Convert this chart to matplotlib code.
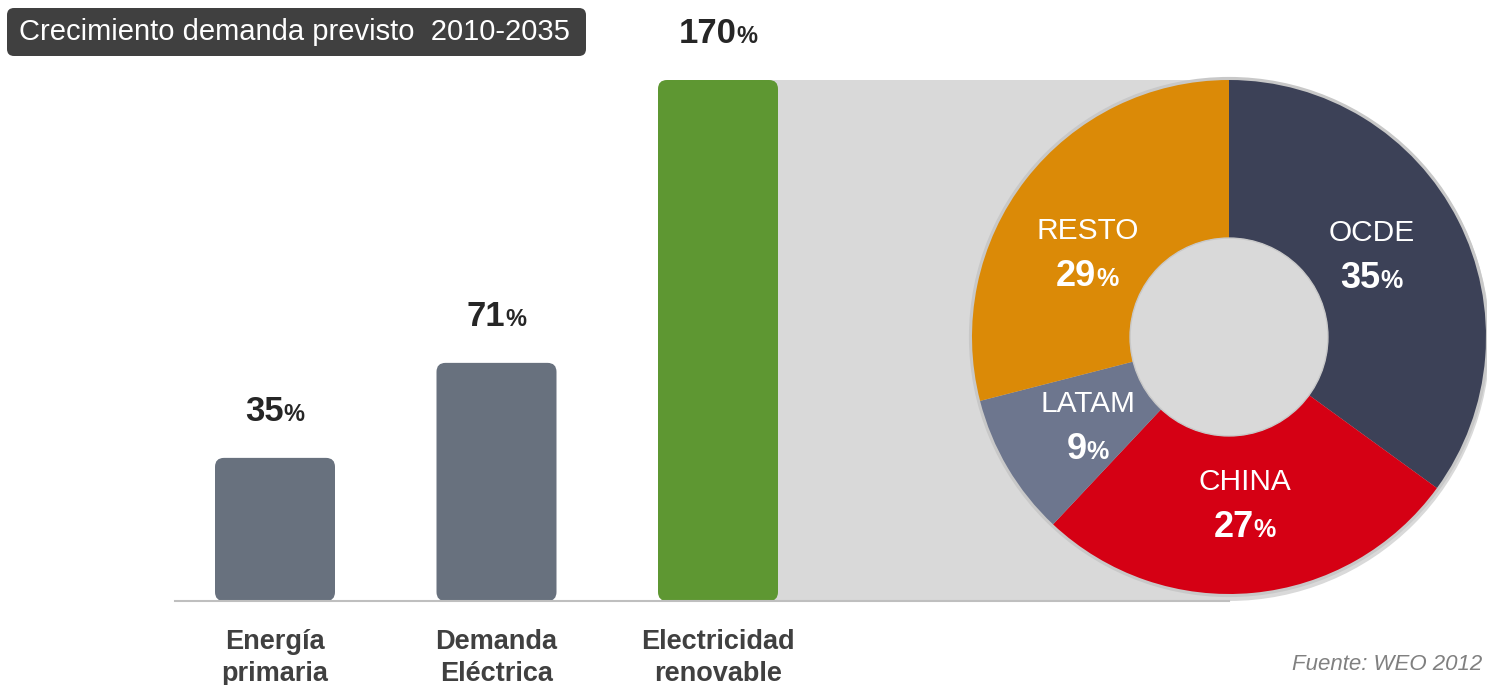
import matplotlib
matplotlib.use("Agg")
import matplotlib.pyplot as plt
from matplotlib.patches import FancyBboxPatch, Rectangle, Circle
from matplotlib.transforms import offset_copy
import numpy as np

plt.rcParams['font.family'] = ['Liberation Sans', 'DejaVu Sans']

# data
title = "Crecimiento demanda previsto  2010-2035"
categories = ["Energía\nprimaria", "Demanda\nEléctrica", "Electricidad\nrenovable"]
growth = [35, 71, 170]
# drawn heights in the original are not to scale with the labels
bar_heights = [46.7, 77.7, 170]
bar_colors = ["#68717E", "#68717E", "#5E9732"]

regions = ["OCDE", "CHINA", "LATAM", "RESTO"]
shares = [35, 27, 9, 29]
region_colors = ["#3C4157", "#D50014", "#6D768E", "#DB8A07"]
source = "Fuente: WEO 2012"

# layout: small angular nudges (deg) for the donut labels
label_nudge = [3.5, 0, 1, 6.5]

W, H = 1487, 685
BG = "#D9D9D9"


def px_box(x0, y0, w, h):
    return [x0 / W, 1 - (y0 + h) / H, w / W, h / H]


def pct_text(ax, x, y, num, big, small, color, trans):
    # number + smaller "%" sharing a baseline, centred on x
    r = fig.canvas.get_renderer()
    t1 = ax.text(x, y, num, fontsize=big, weight='bold', color=color,
                 ha='left', va='baseline', transform=trans)
    t2 = ax.text(x, y, "%", fontsize=small, weight='bold', color=color,
                 ha='left', va='baseline', transform=trans)
    w1 = t1.get_window_extent(r).width
    w2 = t2.get_window_extent(r).width
    t1.set_transform(offset_copy(trans, fig=fig, x=-(w1 + w2) / 2, y=0, units='dots'))
    t2.set_transform(offset_copy(trans, fig=fig, x=w1 - (w1 + w2) / 2, y=0, units='dots'))


fig = plt.figure(figsize=(W / 100, H / 100), dpi=100)

# background layer in pixel coordinates
bg = fig.add_axes([0, 0, 1, 1], zorder=0)
bg.set_xlim(0, W)
bg.set_ylim(H, 0)
bg.axis('off')
bg.add_patch(Rectangle((740, 80), 1229 - 740, 521, color=BG, lw=0))
bg.add_patch(Circle((1229, 340), 261, color=BG, lw=0))
bg.add_patch(FancyBboxPatch((7, 8), 579, 48, boxstyle="round,pad=0,rounding_size=7",
                            fc="#404040", ec="none"))
bg.text(19, 32, title, color="white", fontsize=21, va='center', ha='left')
bg.text(1482, 664, source, color="#808080", fontsize=16, style='italic',
        va='center', ha='right')

# bar chart
ax = fig.add_axes(px_box(175, 80, 1229 - 175, 521), zorder=1)
ax.patch.set_alpha(0)
x = np.arange(len(categories))
ax.set_xlim(-100 / 221.5, (1229 - 275) / 221.5)
ax.set_ylim(0, 170)
bars = ax.bar(x, bar_heights, width=120 / 221.5, color=bar_colors)
aspect = (170 / 521) * 221.5
for b, c in zip(bars, bar_colors):
    b.set_visible(False)
    ax.add_patch(FancyBboxPatch((b.get_x(), 0), b.get_width(), b.get_height(),
                                boxstyle=f"round,pad=0,rounding_size={9 / 221.5}",
                                mutation_aspect=aspect, fc=c, ec="none"))
lab_trans = offset_copy(ax.transData, fig=fig, x=0, y=37, units='dots')
for xi, h, v in zip(x, bar_heights, growth):
    pct_text(ax, xi, h, str(v), 25, 17, "#262626", lab_trans)

for s in ['top', 'right', 'left']:
    ax.spines[s].set_visible(False)
ax.spines['bottom'].set_color("#BFBFBF")
ax.spines['bottom'].set_linewidth(1.5)
ax.set_yticks([])
ax.set_xticks(x, categories)
ax.tick_params(axis='x', length=0, pad=20)
for t in ax.get_xticklabels():
    t.set_fontsize(19.5)
    t.set_fontweight('bold')
    t.set_color("#404040")
    t.set_linespacing(1.3)

# donut
R = 257
lim = 1.03
pa = fig.add_axes(px_box(1229 - R * lim, 337 - R * lim, 2 * R * lim, 2 * R * lim), zorder=2)
pa.add_patch(Circle((0, 0), 1.012, color="#C8C8C8", lw=0))
wedges, _ = pa.pie(shares, colors=region_colors, startangle=90, counterclock=False,
                   radius=1, wedgeprops=dict(width=0.615, edgecolor='none'))
pa.add_patch(Circle((0, 0), 0.385, fc=BG, ec="#C8C8C8", lw=1))
pa.set_xlim(-lim, lim)
pa.set_ylim(-lim, lim)
pa.set_aspect('equal')
pa.axis('off')

for w, name, v, nd in zip(wedges, regions, shares, label_nudge):
    mid = np.deg2rad((w.theta1 + w.theta2) / 2 + nd)
    cx, cy = 0.645 * np.cos(mid), 0.645 * np.sin(mid)
    name_trans = offset_copy(pa.transData, fig=fig, x=0, y=12, units='dots')
    pa.text(cx, cy, name, color="white", fontsize=21.5, ha='center', va='baseline',
            transform=name_trans)
    pct_tr = offset_copy(pa.transData, fig=fig, x=0, y=-35, units='dots')
    pct_text(pa, cx, cy, str(v), 26, 18, "white", pct_tr)

fig.savefig("out.png", dpi=100)
